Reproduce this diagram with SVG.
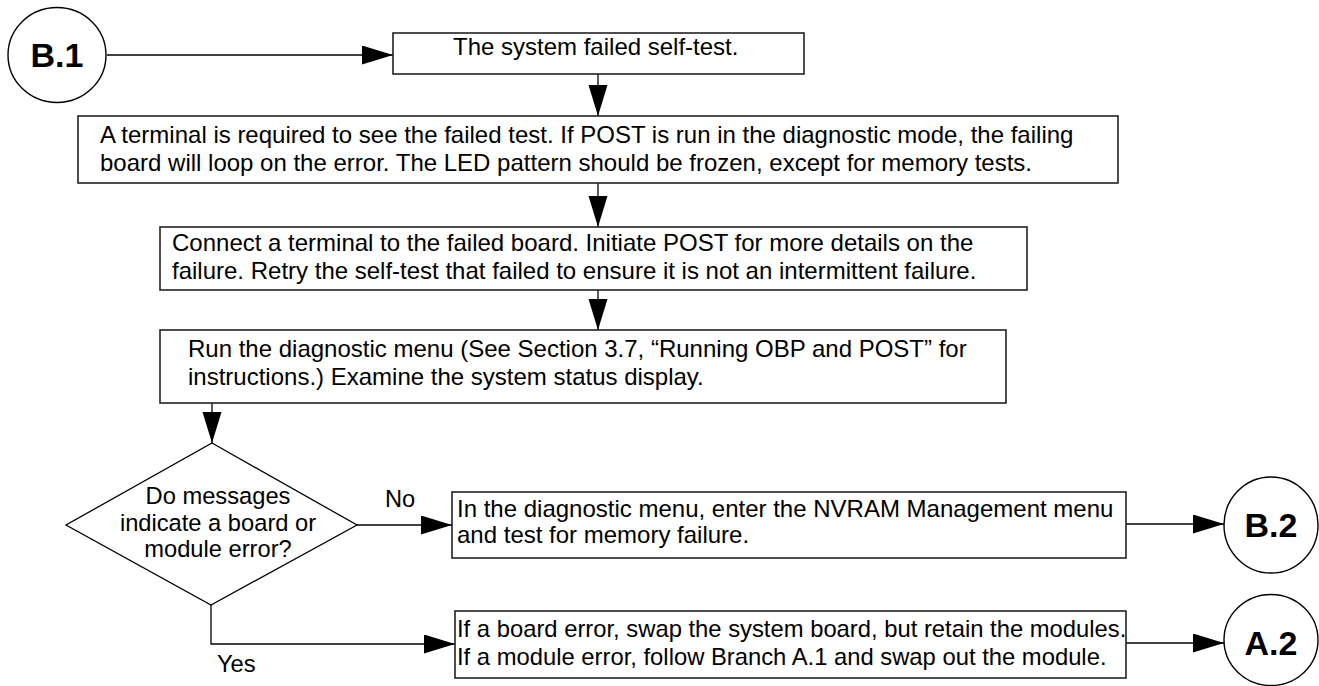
<svg xmlns="http://www.w3.org/2000/svg" width="1319" height="686" viewBox="0 0 1319 686">
<style>
  .box { fill: #fff; stroke: #222; stroke-width: 1.6; }
  .conn { fill: none; stroke: #000; stroke-width: 1.3; }
  .t { font-family: "Liberation Sans", Arial, sans-serif; font-size: 24px; fill: #000; }
  .s { font-size: 23.8px; }
  .d { font-size: 23.7px; }
  .c { font-family: "Liberation Sans", Arial, sans-serif; font-size: 34px; font-weight: bold; fill: #000; text-anchor: middle; }
  .mid { text-anchor: middle; }
</style>
<defs>
  <marker id="arr" markerUnits="userSpaceOnUse" markerWidth="32" markerHeight="20" refX="31" refY="9.5" orient="auto">
    <path d="M0,0 L31,9.5 L0,19 Z" fill="#000"/>
  </marker>
</defs>
<rect width="1319" height="686" fill="#fff"/>

<g id="connectors">
  <line class="conn" x1="107" y1="55" x2="393" y2="55" marker-end="url(#arr)"/>
  <line class="conn" x1="598" y1="74" x2="598" y2="116" marker-end="url(#arr)"/>
  <line class="conn" x1="598" y1="183" x2="598" y2="227" marker-end="url(#arr)"/>
  <line class="conn" x1="598" y1="290" x2="598" y2="330" marker-end="url(#arr)"/>
  <line class="conn" x1="212" y1="403" x2="212" y2="443" marker-end="url(#arr)"/>
  <line class="conn" x1="357" y1="525" x2="452" y2="525" marker-end="url(#arr)"/>
  <polyline class="conn" points="211,605 211,644 455,644" marker-end="url(#arr)"/>
  <line class="conn" x1="1126" y1="524" x2="1224" y2="524" marker-end="url(#arr)"/>
  <line class="conn" x1="1126" y1="643" x2="1224" y2="643" marker-end="url(#arr)"/>
  <text class="t d" x="385" y="507">No</text>
  <text class="t d" x="217" y="672">Yes</text>
</g>

<g id="B1">
  <ellipse cx="57" cy="55" rx="49" ry="47.5" fill="#fff" stroke="#000" stroke-width="1.4"/>
  <text class="c" x="57" y="67">B.1</text>
</g>

<g id="n1">
  <rect class="box" x="393" y="33" width="411" height="41"/>
  <text class="t" x="453" y="55">The system failed self-test.</text>
</g>

<g id="n2">
  <rect class="box" x="78" y="116" width="1040" height="67"/>
  <text class="t" x="100" y="143">A terminal is required to see the failed test. If POST is run in the diagnostic mode, the failing</text>
  <text class="t" x="100" y="171">board will loop on the error. The LED pattern should be frozen, except for memory tests.</text>
</g>

<g id="n3">
  <rect class="box" x="160" y="227" width="867" height="63"/>
  <text class="t" x="172" y="251">Connect a terminal to the failed board. Initiate POST for more details on the</text>
  <text class="t" x="172" y="279">failure. Retry the self-test that failed to ensure it is not an intermittent failure.</text>
</g>

<g id="n4">
  <rect class="box" x="160" y="330" width="846" height="73"/>
  <text class="t" x="188" y="357">Run the diagnostic menu (See Section 3.7, “Running OBP and POST” for</text>
  <text class="t" x="188" y="385">instructions.) Examine the system status display.</text>
</g>

<g id="decision">
  <polygon points="212,443 357,525 211,605 66,525" fill="#fff" stroke="#000" stroke-width="1.3"/>
  <text class="t d mid" x="218" y="504">Do messages</text>
  <text class="t d mid" x="218" y="530.5">indicate a board or</text>
  <text class="t d mid" x="218" y="557">module error?</text>
</g>

<g id="n5">
  <rect class="box" x="452" y="492" width="674" height="66"/>
  <text class="t" x="457" y="516.5">In the diagnostic menu, enter the NVRAM Management menu</text>
  <text class="t" x="457" y="543">and test for memory failure.</text>
</g>

<g id="n6">
  <rect class="box" x="455" y="611" width="671" height="67"/>
  <text class="t s" x="457" y="637">If a board error, swap the system board, but retain the modules.</text>
  <text class="t s" x="457" y="665">If a module error, follow Branch A.1 and swap out the module.</text>
</g>

<g id="B2">
  <ellipse cx="1271" cy="525" rx="47" ry="48" fill="#fff" stroke="#000" stroke-width="1.4"/>
  <text class="c" x="1271" y="537">B.2</text>
</g>

<g id="A2">
  <ellipse cx="1271" cy="640" rx="47" ry="45.5" fill="#fff" stroke="#000" stroke-width="1.4"/>
  <text class="c" x="1271" y="655">A.2</text>
</g>
</svg>
